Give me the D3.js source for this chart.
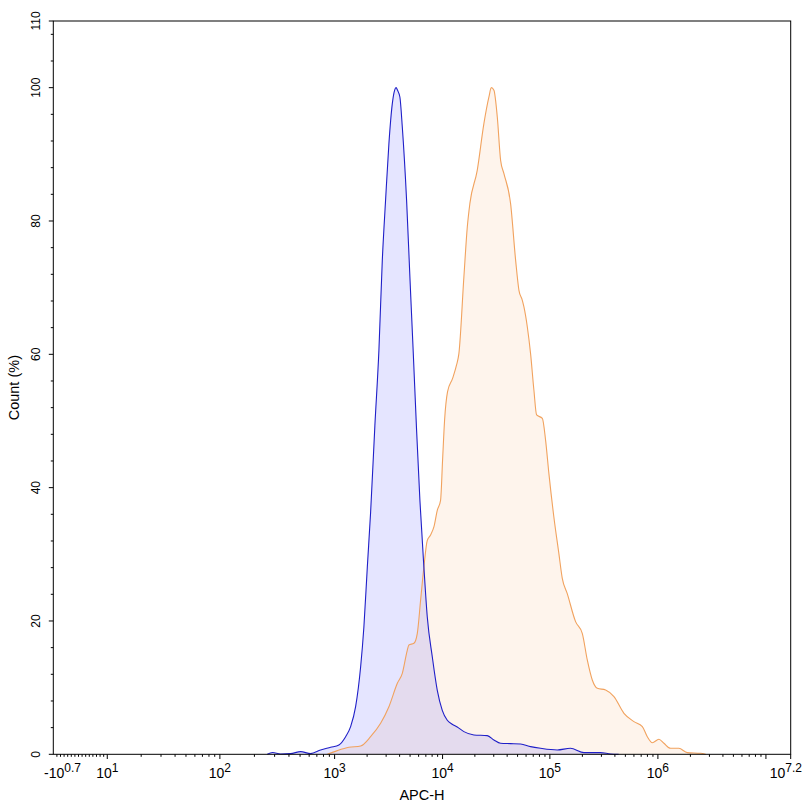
<!DOCTYPE html>
<html>
<head>
<meta charset="utf-8">
<script src="https://cdn.jsdelivr.net/npm/d3@7"></script>
<style>
  html, body { margin: 0; padding: 0; background: #fff; }
  svg { display: block; }
  text { font-family: "Liberation Sans", Arial, sans-serif; fill: #000; }
</style>
</head>
<body>
<div id="chart"></div>
<script>
// ---------------- DATA ----------------
// Control (blue) histogram: APC-H value, Count (%)
const controlApc = [259, 288, 338, 413, 506, 618, 755, 923, 1096, 1265, 1407, 1565, 1741, 1867, 2009, 2153, 2360, 2572, 2765, 2965, 3183, 3423, 3594, 3709, 3828, 4023, 4236, 4642, 4981, 5356, 5745, 6166, 6714, 7217, 8035, 8933, 9937, 11060, 12310, 13700, 15800, 19600, 26100, 30100, 34700, 43000, 53300, 66100, 81900, 117000, 155000, 207000, 294000, 365000, 433000];
const controlCount = [0, 0.27, 0.05, 0.1, 0.4, 0.1, 0.65, 1.05, 1.4, 2.64, 4.14, 7.14, 13.1, 19.1, 28.1, 36.2, 49.3, 60.6, 74.1, 83.1, 91.6, 97.6, 99.6, 100, 99.6, 98.6, 94.1, 83.1, 71.6, 60.1, 48.6, 38.1, 28.1, 20.6, 14.6, 9.6, 6.6, 5.1, 4.5, 4.1, 3.4, 2.9, 2.8, 2.15, 1.65, 1.6, 1.55, 1.15, 0.9, 0.65, 0.9, 0.25, 0.25, 0.05, 0];

// Sample (orange) histogram: APC-H value, Count (%)
const sampleApc = [863, 1059, 1355, 1741, 2153, 2667, 3183, 3810, 4236, 4710, 4875, 5424, 5834, 6258, 6714, 7217, 7745, 8310, 8933, 9580, 10000, 10440, 11130, 12400, 13500, 14190, 15800, 17000, 17960, 21040, 24270, 27040, 28460, 30100, 32360, 34750, 37320, 43050, 47970, 51500, 55380, 57320, 61650, 66100, 71020, 75220, 85070, 91270, 97960, 108900, 121200, 130300, 144900, 173000, 199500, 222000, 247000, 275000, 328000, 392000, 485000, 600000, 718000, 798000, 888000, 1021000, 1137000, 1310000, 1563000, 1871000, 2484000, 2767000];
const sampleCount = [0, 0.55, 1.05, 1.25, 2.64, 4.65, 7.14, 10.65, 12.15, 15.6, 16.4, 16.65, 18.15, 23.1, 28.1, 32.1, 32.9, 34.1, 36.6, 38.1, 44.1, 50.1, 54.4, 56.4, 58.4, 60.1, 71.6, 79.1, 82.6, 87.6, 94.6, 98.6, 100, 99.6, 95.6, 89.1, 87.1, 82.6, 74.1, 69.6, 68.1, 67.1, 64.1, 60.1, 54.6, 50.9, 50.4, 47.1, 42.1, 35.6, 30.1, 26.4, 24.1, 19.9, 18.15, 14.15, 11.15, 9.9, 9.65, 8.65, 6.15, 4.9, 4.15, 2.64, 1.74, 2.25, 1.65, 0.9, 0.9, 0.25, 0.15, 0];

// Axis ticks
const yTicks = [0, 20, 40, 60, 80, 100, 110];
const xMajorExps = [1, 2, 3, 4, 5, 6];
const xMinExp = 0.7;   // axis starts at -10^0.7
const xMaxExp = 7.2;   // axis ends at 10^7.2
const xTitle = "APC-H";
const yTitle = "Count (%)";

// ---------------- LAYOUT ----------------
const W = 804, H = 807;
const mLeft = 53.3, mRight = 790.7, mTop = 21, mBottom = 754.3;

// Biexponential-like transform: linear below 10, log10 above
const u = v => v >= 10 ? Math.log10(v) : v / 10;

// Axis calibration of the display transform (decade positions, as fraction of plot width)
const calU = [-0.5, 1, 2, 3, 4, 5, 6, 7, 7.2];
const calF = [0, 0.0732, 0.2259, 0.3815, 0.5279, 0.6734, 0.8199, 0.9664, 1];
const xScale = d3.scaleLinear()
  .domain(calU)
  .range(calF.map(f => mLeft + f * (mRight - mLeft)));
const X = v => xScale(u(v));

const yScale = d3.scaleLinear().domain([0, 110]).range([mBottom, mTop]);

const svg = d3.select("#chart").append("svg")
  .attr("width", W).attr("height", H);

// ---------------- SERIES ----------------
const control = controlApc.map((v, i) => ({ v, p: controlCount[i] }));
const sample = sampleApc.map((v, i) => ({ v, p: sampleCount[i] }));

const area = d3.area().x(d => X(d.v)).y0(yScale(0)).y1(d => yScale(d.p)).curve(d3.curveMonotoneX);
const line = d3.line().x(d => X(d.v)).y(d => yScale(d.p)).curve(d3.curveMonotoneX);

svg.append("path").datum(sample).attr("d", area)
  .attr("fill", "rgba(244,164,96,0.12)");
svg.append("path").datum(control).attr("d", area)
  .attr("fill", "rgba(0,0,255,0.1)");
svg.append("path").datum(sample).attr("d", line)
  .attr("fill", "none").attr("stroke", "#f1a25e").attr("stroke-width", 1.1);
svg.append("path").datum(control).attr("d", line)
  .attr("fill", "none").attr("stroke", "#1f1fc8").attr("stroke-width", 1.1);

// ---------------- FRAME ----------------
svg.append("rect")
  .attr("x", mLeft).attr("y", mTop)
  .attr("width", mRight - mLeft).attr("height", mBottom - mTop)
  .attr("fill", "none").attr("stroke", "#000").attr("stroke-width", 1);

// ---------------- Y AXIS ----------------
const yMinor = d3.range(0, 111, 4).filter(t => t % 20 !== 0);
svg.append("g").selectAll("line").data(yMinor).join("line")
  .attr("x1", mLeft - 2.5).attr("x2", mLeft)
  .attr("y1", d => yScale(d)).attr("y2", d => yScale(d))
  .attr("stroke", "#000");
svg.append("g").selectAll("line").data(yTicks).join("line")
  .attr("x1", mLeft - 4.5).attr("x2", mLeft)
  .attr("y1", d => yScale(d)).attr("y2", d => yScale(d))
  .attr("stroke", "#000");
svg.append("g").selectAll("text").data(yTicks).join("text")
  .attr("transform", d => `translate(39.5,${yScale(d)}) rotate(-90)`)
  .attr("text-anchor", "middle")
  .attr("font-size", 12)
  .text(d => d);
svg.append("text")
  .attr("transform", `translate(18.5,${(mTop + mBottom) / 2}) rotate(-90)`)
  .attr("text-anchor", "middle")
  .attr("font-size", 14.5)
  .text(yTitle);

// ---------------- X AXIS ----------------
const xMinorVals = d3.range(-4, 10).concat(
  d3.range(1, 7).flatMap(e => d3.range(2, 10).map(k => k * Math.pow(10, e)))
).filter(v => u(v) <= xMaxExp);
svg.append("g").selectAll("line").data(xMinorVals).join("line")
  .attr("x1", d => X(d)).attr("x2", d => X(d))
  .attr("y1", mBottom).attr("y2", mBottom + 2.5)
  .attr("stroke", "#000");
const xMajorVals = xMajorExps.map(e => Math.pow(10, e)).concat([1e7, Math.pow(10, xMaxExp)]);
svg.append("g").selectAll("line").data(xMajorVals).join("line")
  .attr("x1", d => X(d)).attr("x2", d => X(d))
  .attr("y1", mBottom).attr("y2", mBottom + 4.7)
  .attr("stroke", "#000");

function expLabel(x, anchor, sign, exp) {
  const t = svg.append("text")
    .attr("x", x).attr("y", 778)
    .attr("text-anchor", anchor)
    .attr("font-size", 14);
  t.append("tspan").text(sign + "10");
  t.append("tspan").attr("font-size", 12).attr("dy", -6).text(exp);
}
xMajorExps.forEach(e => expLabel(X(Math.pow(10, e)), "middle", "", String(e)));
expLabel(44, "start", "-", String(xMinExp));
expLabel(W - 2, "end", "", String(xMaxExp));

svg.append("text")
  .attr("x", (mLeft + mRight) / 2).attr("y", 800)
  .attr("text-anchor", "middle")
  .attr("font-size", 14.5)
  .text(xTitle);
</script>
</body>
</html>
